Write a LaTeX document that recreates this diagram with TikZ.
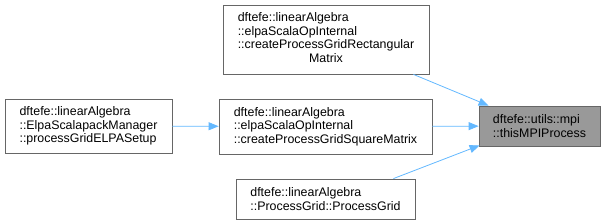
\documentclass[tikz,border=0pt]{standalone}
\usepackage{fontspec}
\setmainfont{Liberation Sans}
\usetikzlibrary{arrows.meta}
\definecolor{edgeblue}{HTML}{63B8FF}
\definecolor{boxgris}{HTML}{666666}
\definecolor{targetgris}{HTML}{999999}

\begin{document}
\begin{tikzpicture}[
    x=1pt, y=-1pt,
    every node/.style={font=\fontsize{12.4pt}{13.5pt}\selectfont},
    fnbox/.style={draw=boxgris, fill=white, line width=0.8pt, align=left,
        inner sep=0pt},
    callarrow/.style={draw=edgeblue, line width=0.8pt,
        -{Triangle[length=10pt, width=8pt]}}
]
\useasboundingbox (0,0) rectangle (607,224);

% called function
\node[fnbox, fill=targetgris, minimum width=121pt, minimum height=40pt]
    (mpiproc) at (539.5,126) {dftefe::utils::mpi\\::thisMPIProcess};

% callers
\node[fnbox, minimum width=206pt, minimum height=69pt] (rectgrid) at (326,39.5)
    {\begin{tabular}{@{}l@{}}dftefe::linearAlgebra\\::elpaScalaOpInternal\\::createProcessGridRectangular\\\multicolumn{1}{@{}c@{}}{Matrix}\end{tabular}};
\node[fnbox, minimum width=213pt, minimum height=55pt] (sqgrid) at (325.5,126.5)
    {dftefe::linearAlgebra\\::elpaScalaOpInternal\\::createProcessGridSquareMatrix};
\node[fnbox, minimum width=179pt, minimum height=40pt] (pgrid) at (325.5,199)
    {dftefe::linearAlgebra\\::ProcessGrid::ProcessGrid};
\node[fnbox, minimum width=167pt, minimum height=54pt] (elpasetup) at (88.5,126)
    {dftefe::linearAlgebra\\::ElpaScalapackManager\\::processGridELPASetup};

% edges
\draw[callarrow] ([xshift=-16pt]rectgrid.south east) -- ([xshift=10pt]mpiproc.north west);
\draw[callarrow] (sqgrid) -- (mpiproc);
\draw[callarrow] ([xshift=-22pt]pgrid.north east) -- ([xshift=1pt, yshift=1pt]mpiproc.south west);
\draw[callarrow] (elpasetup) -- (sqgrid);
\end{tikzpicture}
\end{document}
